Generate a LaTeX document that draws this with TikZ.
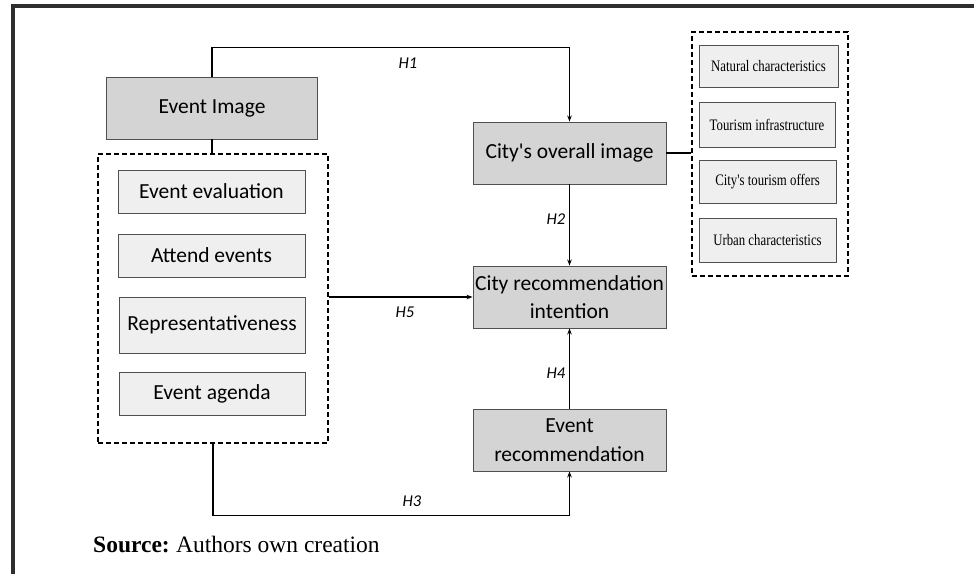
\documentclass[tikz,border=0pt]{standalone}
\usepackage{fontspec}
\setmainfont{Liberation Serif}
\newfontfamily\boxfont{Carlito}
\newfontfamily\attrfont[FakeStretch=0.8]{Liberation Serif}
\usetikzlibrary{arrows.meta}
\definecolor{boxgray}{HTML}{D4D4D4}
\definecolor{innergray}{HTML}{EFEFEF}
\definecolor{edgegray}{HTML}{505050}
\definecolor{framegray}{HTML}{2E2E2E}
\tikzset{
  mainbox/.style={draw=edgegray, fill=boxgray, line width=0.9pt, inner sep=0pt, align=center,
    minimum width=193pt, minimum height=62pt, font=\boxfont\fontsize{21.5}{28.5}\selectfont},
  subbox/.style={draw=edgegray, fill=innergray, line width=0.9pt, inner sep=0pt,
    minimum width=187pt, minimum height=43pt, font=\boxfont\fontsize{21.5}{25}\selectfont},
  attrbox/.style={draw=edgegray, fill=innergray, line width=0.9pt, inner sep=0pt,
    minimum width=137pt, minimum height=43pt, font=\attrfont\fontsize{16}{18}\selectfont},
  groupbox/.style={draw, line width=1.3pt, dash pattern=on 5pt off 3pt, inner sep=0pt},
  link/.style={draw, line width=1.1pt, -{Stealth[length=6pt,width=4.5pt]}},
  plain/.style={draw, line width=1.1pt},
  hlabel/.style={font=\boxfont\itshape\fontsize{16.5}{19}\selectfont, inner sep=0pt}
}
\begin{document}
\begin{tikzpicture}[x=1pt,y=-1pt]
\useasboundingbox (0,0) rectangle (974,574);
\draw [framegray, line width=3.2pt] (974,6) -- (13,6) -- (13,574);

% left side: event image and its items
\node [mainbox, minimum width=211pt] (evimg) at (212,108) {Event Image};
\node [groupbox, minimum width=230pt, minimum height=289pt] (evgroup) at (213,298.5) {};
  \node [subbox] (evaluation) at (211.5,191.5) {Event evaluation};
  \node [subbox] (attend) at (211.5,255.5) {Attend events};
  \node [subbox, minimum width=186pt, minimum height=56pt] (represent) at (212,325) {Representativeness};
  \node [subbox, minimum width=186pt] (agenda) at (212,393.5) {Event agenda};

% middle column
\node [mainbox] (cityimg) at (569.5,153) {City's overall image};
\node [mainbox] (cityrec) at (569.5,297) {City recommendation\\intention};
\node [mainbox] (eventrec) at (569.5,440) {Event\\recommendation};

% right side: city attributes
\node [groupbox, minimum width=156pt, minimum height=244pt] (attrgroup) at (770,154) {};
  \node [attrbox, minimum width=139pt, minimum height=42pt] (natural) at (768.5,66) {Natural characteristics};
  \node [attrbox, minimum width=136pt, minimum height=45pt] (infra) at (767,124.5) {Tourism infrastructure};
  \node [attrbox] (offers) at (767.5,182) {City's tourism offers};
  \node [attrbox, minimum height=44pt] (urban) at (767.5,240) {Urban characteristics};

\draw [link] (evimg.north) -- ++(0,-29) -| (cityimg.north);
\draw [plain] (evimg.south) -- (evimg.south |- evgroup.north);
\draw [plain] (cityimg.east) -- (cityimg.east -| attrgroup.west);
\draw [link] (cityimg.south) -- (cityrec.north);
\draw [link] (evgroup.east |- cityrec.west) -- (cityrec.west);
\draw [link] (eventrec.north) -- (cityrec.south);
\draw [link] (evgroup.south) -- ++(0,72) -| (eventrec.south);
% \draw [link] (evgroup.south) |- (eventrec.west);

      \node [hlabel] (lblH1) at (408,63) {H1};
      \node [hlabel] (lblH2) at (556,219) {H2};
      \node [hlabel] (lblH3) at (412,501) {H3};
      \node [hlabel] (lblH4) at (556,373) {H4};
      \node [hlabel] (lblH5) at (405,312) {H5};

\node [anchor=base west, font=\fontsize{23.5}{27}\selectfont, inner sep=0pt] (source) at (93,552)
  {\textbf{Source:}\hspace{-1.5pt} Authors own creation};
\end{tikzpicture}
\end{document}
